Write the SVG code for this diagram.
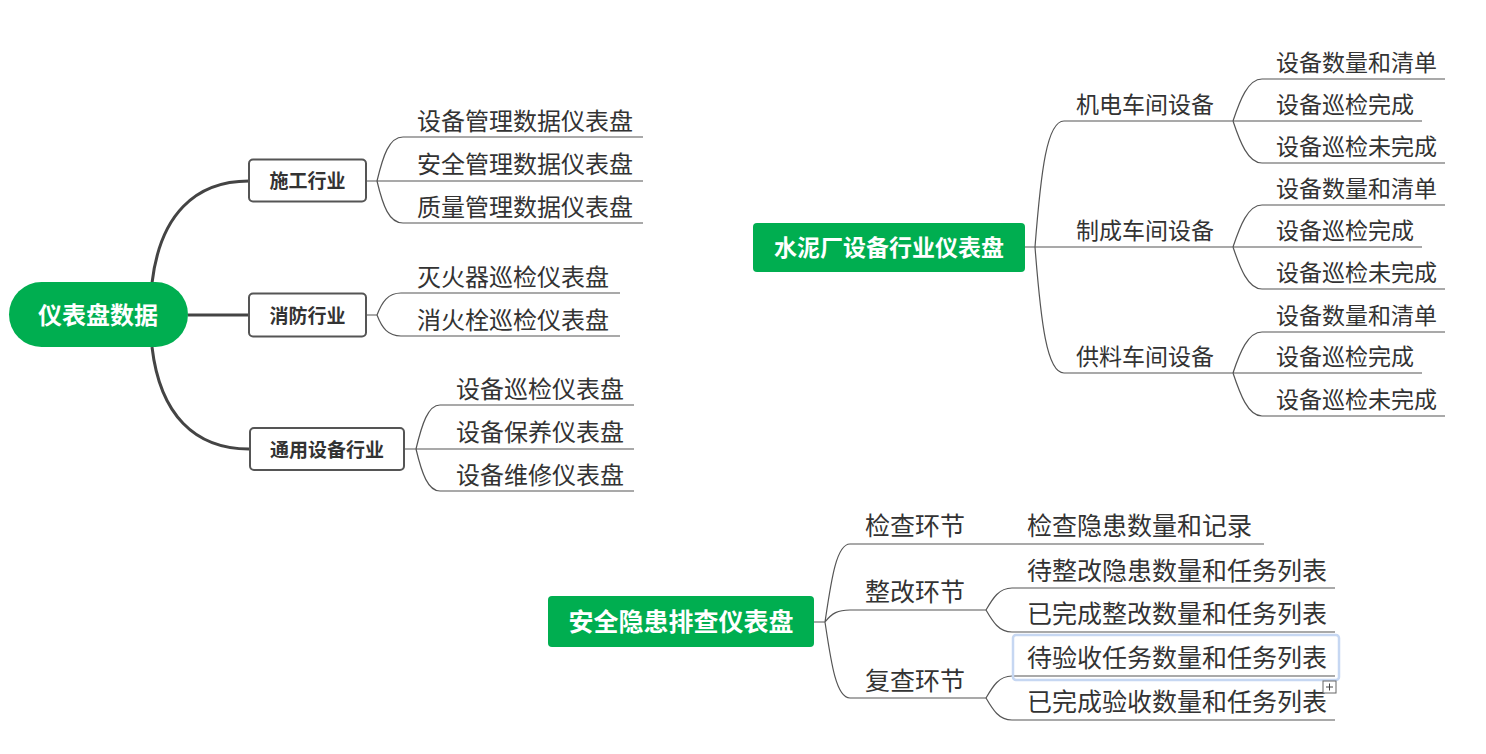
<svg xmlns="http://www.w3.org/2000/svg" width="1486" height="754" viewBox="0 0 1486 754">
<style>
text{font-family:"Noto Sans CJK SC","Noto Sans",sans-serif;dominant-baseline:central;fill:#333}
.root{fill:#fff;font-weight:700}
.box{fill:#fff;stroke:#555;stroke-width:2}
.bt{font-weight:700;font-size:19px;text-anchor:middle}
.green{fill:#00AE50}
.thick{fill:none;stroke:#444;stroke-width:3}
.thin{fill:none;stroke:#555;stroke-width:1.2}
.l24{font-size:24px}
.l23{font-size:23px}
.l25{font-size:25px}
</style>
<rect width="1486" height="754" fill="#fff"/>
<g id="connectors">
<path class="thick" d="M152,283 C160,215 195,181 249,181"/>
<path class="thick" d="M188,315 H249"/>
<path class="thick" d="M152,347 C160,415 195,449 249,449"/>
<path class="thin" d="M366,181 H377 M377,181 C383,156 389,137 403,137 H643 M377,181 H643 M377,181 C383,206 389,223 403,223 H643"/>
<path class="thin" d="M366,315 H377 M377,315 C382,302 388,293 401,293 H620 M377,315 C382,328 388,336 401,336 H620"/>
<path class="thin" d="M404,449 H416 M416,449 C422,424 428,405 440,405 H634 M416,449 H634 M416,449 C422,474 428,491 440,491 H634"/>
<path class="thin" d="M1025,247 H1035 M1035,247 C1041,170 1047,121 1064,121 H1233 M1035,247 H1233 M1035,247 C1041,324 1047,373 1064,373 H1233"/>
<path class="thin" d="M1233,121 C1240,100 1248,79 1262,79 H1445 M1233,121 H1422 M1233,121 C1240,142 1248,163 1262,163 H1445"/>
<path class="thin" d="M1233,247 C1240,226 1248,205 1262,205 H1445 M1233,247 H1422 M1233,247 C1240,268 1248,289 1262,289 H1445"/>
<path class="thin" d="M1233,373 C1240,352 1248,332 1262,332 H1445 M1233,373 H1422 M1233,373 C1240,394 1248,416 1262,416 H1445"/>
<path class="thin" d="M814,622 H825 M825,622 C831,582 836,544 850,544 H1264 M825,622 C832,613 838,610 850,610 H986 M825,622 C831,662 836,698 850,698 H986"/>
<path class="thin" d="M986,610 C993,598 999,588 1012,588 H1335 M986,610 C993,622 999,632 1012,632 H1335"/>
<path class="thin" d="M986,698 C993,686 999,676 1012,676 H1335 M986,698 C993,710 999,720 1012,720 H1335"/>
</g>
<g id="root">
<rect class="green" x="9" y="282" width="179" height="65" rx="32.5"/>
<text class="root" x="98" y="313.5" font-size="24" text-anchor="middle">仪表盘数据</text>
</g>
<g id="shigong">
<rect class="box" x="249" y="159.5" width="117" height="42" rx="4"/>
<text class="bt" x="307.5" y="179.5">施工行业</text>
</g>
<g id="xiaofang">
<rect class="box" x="249" y="293.5" width="117" height="43" rx="4"/>
<text class="bt" x="307.5" y="314">消防行业</text>
</g>
<g id="tongyong">
<rect class="box" x="250" y="428" width="154" height="42" rx="4"/>
<text class="bt" x="327" y="448">通用设备行业</text>
</g>
<g id="leaves-left">
<text class="l24" x="417" y="119">设备管理数据仪表盘</text>
<text class="l24" x="417" y="162">安全管理数据仪表盘</text>
<text class="l24" x="417" y="205">质量管理数据仪表盘</text>
<text class="l24" x="417" y="275">灭火器巡检仪表盘</text>
<text class="l24" x="417" y="318">消火栓巡检仪表盘</text>
<text class="l24" x="456" y="387">设备巡检仪表盘</text>
<text class="l24" x="456" y="430">设备保养仪表盘</text>
<text class="l24" x="456" y="473">设备维修仪表盘</text>
</g>
<g id="shuini">
<rect class="green" x="753" y="223" width="272" height="49" rx="4"/>
<text class="root" x="889" y="246" font-size="23" text-anchor="middle">水泥厂设备行业仪表盘</text>
</g>
<g id="shuini-sub">
<text class="l23" x="1076" y="103">机电车间设备</text>
<text class="l23" x="1076" y="229">制成车间设备</text>
<text class="l23" x="1076" y="355">供料车间设备</text>
<text class="l23" x="1276" y="61">设备数量和清单</text>
<text class="l23" x="1276" y="103">设备巡检完成</text>
<text class="l23" x="1276" y="145">设备巡检未完成</text>
<text class="l23" x="1276" y="187">设备数量和清单</text>
<text class="l23" x="1276" y="229">设备巡检完成</text>
<text class="l23" x="1276" y="271">设备巡检未完成</text>
<text class="l23" x="1276" y="314">设备数量和清单</text>
<text class="l23" x="1276" y="355">设备巡检完成</text>
<text class="l23" x="1276" y="398">设备巡检未完成</text>
</g>
<g id="anquan">
<rect class="green" x="548" y="596" width="266" height="51" rx="4"/>
<text class="root" x="681" y="620" font-size="25" text-anchor="middle">安全隐患排查仪表盘</text>
</g>
<g id="anquan-sub">
<text class="l25" x="865" y="524">检查环节</text>
<text class="l25" x="865" y="590">整改环节</text>
<text class="l25" x="865" y="679">复查环节</text>
<text class="l25" x="1027" y="524">检查隐患数量和记录</text>
<text class="l25" x="1027" y="569">待整改隐患数量和任务列表</text>
<text class="l25" x="1027" y="612">已完成整改数量和任务列表</text>
<text class="l25" x="1027" y="656">待验收任务数量和任务列表</text>
<text class="l25" x="1027" y="700">已完成验收数量和任务列表</text>
</g>
<g id="selection">
<rect x="1013" y="635" width="326" height="45" rx="3" fill="none" stroke="#c6d7f2" stroke-width="2.5"/>
<rect x="1323" y="681" width="13" height="12" fill="#fff" stroke="#666" stroke-width="1"/>
<path d="M1329.5,683.5 V690.5 M1326,687 H1333" stroke="#444" stroke-width="1" fill="none"/>
</g>
</svg>
